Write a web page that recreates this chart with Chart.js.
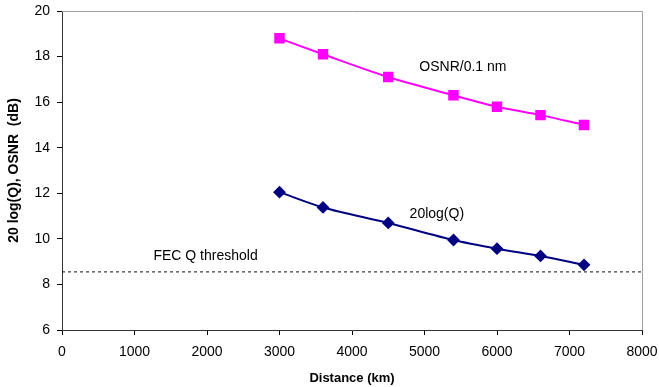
<!DOCTYPE html>
<html>
<head>
<meta charset="utf-8">
<script src="https://cdn.jsdelivr.net/npm/chart.js@4.4.0/dist/chart.umd.min.js"></script>
<style>
html,body{margin:0;padding:0;background:#fff;}
#wrap{width:659px;height:387px;}
</style>
</head>
<body>
<div id="wrap"><canvas id="c" width="659" height="387"></canvas></div>
<script>
const distances = [3000, 3600, 4500, 5400, 6000, 6600, 7200];
const osnr = [18.8, 18.1, 17.1, 16.3, 15.8, 15.43, 15.0];
const qdB = [12.05, 11.38, 10.7, 9.95, 9.57, 9.25, 8.86];
const thresholdX = [0, 8000];
const thresholdQ = 8.55;
const xTicks = [0, 1000, 2000, 3000, 4000, 5000, 6000, 7000, 8000];
const yTicks = [6, 8, 10, 12, 14, 16, 18, 20];
const labels = [
  {text: 'OSNR/0.1 nm', x: 5530, y: 17.55},
  {text: '20log(Q)', x: 5170, y: 11.07},
  {text: 'FEC Q threshold', x: 1980, y: 9.25}
];

const FONT = '"Liberation Sans", Arial, sans-serif';

const annot = {
  id: 'annot',
  afterDraw(chart) {
    const ctx = chart.ctx, xs = chart.scales.x, ys = chart.scales.y, a = chart.chartArea;
    ctx.save();
    ctx.strokeStyle = '#a0a0a0';
    ctx.lineWidth = 1;
    ctx.beginPath();
    ctx.moveTo(a.left, a.top + 0.5);
    ctx.lineTo(a.right + 0.5, a.top + 0.5);
    ctx.lineTo(a.right + 0.5, a.bottom);
    ctx.stroke();
    ctx.fillStyle = '#000';
    ctx.font = '14px ' + FONT;
    ctx.textAlign = 'center';
    ctx.textBaseline = 'middle';
    labels.forEach(l => ctx.fillText(l.text, xs.getPixelForValue(l.x), ys.getPixelForValue(l.y)));
    ctx.restore();
  }
};

new Chart(document.getElementById('c'), {
  type: 'scatter',
  data: {
    datasets: [
      {
        label: 'OSNR/0.1 nm',
        data: distances.map((d, i) => ({x: d, y: osnr[i]})),
        showLine: true,
        borderColor: '#ff00ff',
        backgroundColor: '#ff00ff',
        borderWidth: 2,
        pointStyle: 'rect',
        pointRadius: 6,
        pointHoverRadius: 6,
        tension: 0.3
      },
      {
        label: '20log(Q)',
        data: distances.map((d, i) => ({x: d, y: qdB[i]})),
        showLine: true,
        borderColor: '#000080',
        backgroundColor: '#000080',
        borderWidth: 2,
        pointStyle: 'rectRot',
        pointRadius: 5,
        pointHoverRadius: 5,
        tension: 0.3
      },
      {
        label: 'FEC Q threshold',
        data: thresholdX.map(x => ({x: x, y: thresholdQ})),
        showLine: true,
        borderColor: '#111',
        borderWidth: 1,
        borderDash: [3, 3],
        pointRadius: 0
      }
    ]
  },
  options: {
    responsive: false,
    animation: false,
    devicePixelRatio: 1,
    layout: {padding: {left: 0, top: 11, right: 17, bottom: 0}},
    plugins: {legend: {display: false}, tooltip: {enabled: false}},
    scales: {
      x: {
        type: 'linear', min: 0, max: 8000,
        afterBuildTicks: s => { s.ticks = xTicks.map(v => ({value: v})); },
        afterFit: s => { s.height = 57; s.paddingLeft = 0; s.paddingRight = 0; },
        grid: {drawOnChartArea: false, tickLength: 5, color: '#000'},
        border: {color: '#333', width: 1},
        ticks: {color: '#000', font: {family: FONT, size: 14}, padding: 9, maxRotation: 0, callback: v => String(v)},
        title: {display: true, text: 'Distance (km)', color: '#000', font: {family: FONT, size: 13, weight: 'bold'}, padding: {top: 4, bottom: 1}}
      },
      y: {
        type: 'linear', min: 6, max: 20,
        afterBuildTicks: s => { s.ticks = yTicks.map(v => ({value: v})); },
        afterFit: s => { s.width = 62; s.paddingTop = 0; s.paddingBottom = 0; },
        grid: {drawOnChartArea: false, tickLength: 5, color: '#000'},
        border: {color: '#333', width: 1},
        ticks: {color: '#000', font: {family: FONT, size: 14}, padding: 7, callback: v => String(v)},
        title: {display: true, text: '20 log(Q), OSNR  (dB)', color: '#000', font: {family: FONT, size: 14, weight: 'bold'}, padding: {top: 6, bottom: 0}}
      }
    }
  },
  plugins: [annot]
});
</script>
</body>
</html>
